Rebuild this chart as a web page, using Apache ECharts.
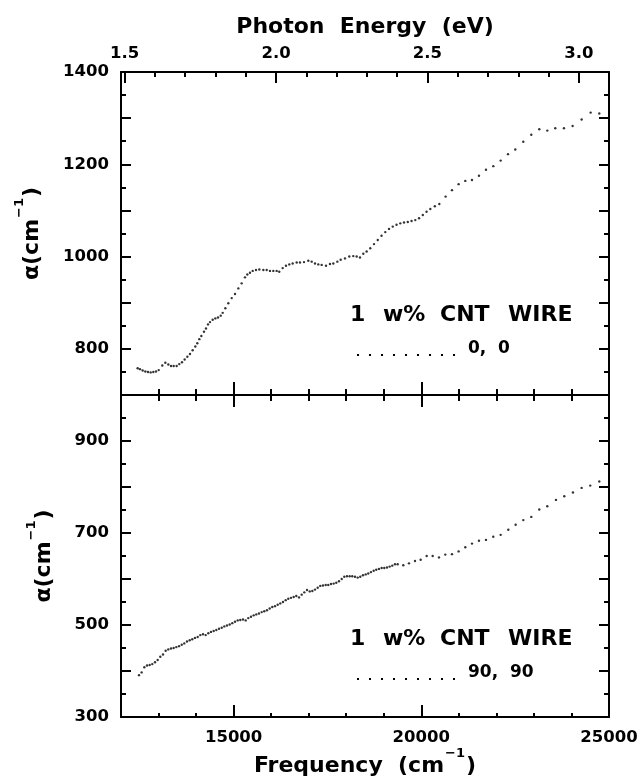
<!DOCTYPE html>
<html>
<head>
<meta charset="utf-8">
<script src="https://cdn.jsdelivr.net/npm/echarts@6/dist/echarts.min.js"></script>
<style>
  html, body { margin: 0; padding: 0; background: #fff; }
  #chart { width: 641px; height: 778px; }
</style>
</head>
<body>
<div id="chart"></div>
<script>
// 1 eV in cm^-1
var EV = 8065.54;
var freqMin = 12000, freqMax = 25000;

// tick marks / labels
var freqLabels = [15000, 20000, 25000];
var freqMajor = [15000, 20000];
var energyTicks = [1.5, 1.6, 1.7, 1.8, 1.9, 2.0, 2.1, 2.2, 2.3, 2.4, 2.5, 2.6, 2.7, 2.8, 2.9, 3.0];
var energyLabels = [1.5, 2.0, 2.5, 3.0];
var topAlphaLabels = [800, 1000, 1200, 1400];
var botAlphaLabels = [300, 500, 700, 900];

// 1 w% CNT wire, polarisation 0, 0
var topFreq = [12444, 12506, 12577, 12648, 12719, 12790, 12861, 12932, 13004, 13100,
  13181, 13261, 13332, 13403, 13483, 13553, 13625, 13696, 13767, 13838,
  13909, 13980, 14033, 14086, 14140, 14211, 14264, 14318, 14371, 14442,
  14513, 14584, 14656, 14709, 14780, 14859, 14949, 15037, 15126, 15215,
  15303, 15365, 15436, 15508, 15596, 15685, 15792, 15881, 15969, 16058,
  16147, 16216, 16307, 16395, 16483, 16573, 16680, 16768, 16875, 16990,
  17080, 17168, 17256, 17346, 17461, 17567, 17656, 17763, 17852, 17967,
  18081, 18188, 18278, 18366, 18455, 18544, 18640, 18740, 18840, 18940,
  19040, 19140, 19240, 19340, 19440, 19540, 19640, 19740, 19840, 19940,
  20040, 20140, 20240, 20360, 20480, 20648, 20817, 20994, 21172, 21350,
  21536, 21723, 21918, 22114, 22309, 22504, 22717, 22930, 23143, 23356,
  23569, 23800, 24031, 24271, 24511, 24741];
var topAlpha = [758, 756, 753, 751, 750, 749, 750, 751, 754, 764,
  770, 766, 763, 763, 763, 767, 771, 777, 783, 789,
  797, 805, 812, 821, 828, 837, 844, 853, 858, 863,
  866, 868, 872, 878, 888, 899, 910, 919, 931, 942,
  955, 961, 965, 969, 971, 972, 971, 971, 969, 969,
  969, 967, 975, 980, 983, 985, 987, 987, 988, 991,
  989, 985, 983, 982, 980, 984, 985, 989, 993, 996,
  1000, 1001, 1000, 998, 1006, 1011, 1018, 1027, 1036, 1045,
  1053, 1060, 1065, 1069, 1072, 1074, 1075, 1077, 1079, 1083,
  1090, 1097, 1103, 1109, 1114, 1130, 1144, 1157, 1164, 1166,
  1175, 1188, 1196, 1208, 1222, 1232, 1249, 1264, 1276, 1273,
  1278, 1278, 1283, 1297, 1312, 1310];

// 1 w% CNT wire, polarisation 90, 90
var botFreq = [12479, 12550, 12621, 12693, 12764, 12834, 12906, 12977, 13047, 13119,
  13190, 13260, 13332, 13403, 13473, 13545, 13617, 13686, 13758, 13830,
  13899, 13971, 14043, 14112, 14184, 14256, 14326, 14397, 14469, 14539,
  14611, 14683, 14752, 14824, 14896, 14965, 15037, 15109, 15178, 15250,
  15322, 15391, 15463, 15535, 15604, 15676, 15748, 15817, 15889, 15961,
  16030, 16102, 16174, 16243, 16315, 16387, 16456, 16528, 16600, 16670,
  16742, 16813, 16883, 16955, 17027, 17097, 17168, 17240, 17309, 17381,
  17453, 17522, 17594, 17666, 17735, 17807, 17879, 17948, 18020, 18092,
  18161, 18233, 18305, 18374, 18446, 18518, 18587, 18659, 18731, 18800,
  18872, 18944, 19014, 19086, 19157, 19227, 19299, 19371, 19520, 19672,
  19832, 19983, 20143, 20303, 20471, 20639, 20817, 20994, 21172, 21350,
  21536, 21723, 21918, 22114, 22318, 22513, 22717, 22930, 23143, 23356,
  23587, 23809, 24040, 24271, 24500, 24741];
var botAlpha = [391, 397, 408, 412, 413, 415, 419, 424, 431, 436,
  444, 447, 449, 450, 452, 454, 457, 460, 464, 467,
  469, 472, 474, 478, 480, 478, 482, 485, 487, 489,
  492, 494, 497, 499, 501, 504, 507, 510, 511, 512,
  510, 515, 518, 521, 523, 525, 528, 530, 532, 536,
  539, 541, 544, 547, 550, 554, 557, 559, 561, 563,
  560, 566, 571, 576, 573, 574, 577, 581, 585, 586,
  587, 587, 589, 590, 592, 595, 600, 605, 606, 606,
  606, 605, 603, 605, 608, 610, 612, 615, 618, 620,
  622, 624, 624, 625, 627, 629, 632, 632, 630, 634,
  639, 642, 650, 650, 647, 653, 654, 660, 669, 677,
  683, 685, 692, 696, 707, 718, 728, 735, 751, 758,
  772, 780, 788, 798, 803, 812];

function pairs(xs, ys) {
  return xs.map(function (x, i) { return [x, ys[i]]; });
}

var FONT = 'DejaVu Sans';
var black = '#000';
var lineW = 2;
var plain = function (v) { return String(v); };
var labelStyle = { color: black, fontFamily: FONT, fontWeight: 'bold', fontSize: 16.5, formatter: plain };
var nameRich = {
  a: { fontFamily: FONT, fontWeight: 'bold', fontSize: 22, color: black, lineHeight: 30, verticalAlign: 'bottom' },
  s: { fontFamily: FONT, fontWeight: 'bold', fontSize: 13, color: black, lineHeight: 30, verticalAlign: 'top', padding: [0, 1, 0, 1] }
};

function freqAxis(grid, pos, o) {
  return Object.assign({
    type: 'value', gridIndex: grid, position: pos, min: freqMin, max: freqMax, interval: 1000,
    axisLine: { show: true, onZero: false, lineStyle: { color: black, width: lineW } },
    axisTick: { show: true, inside: true, length: 6, lineStyle: { color: black, width: lineW } },
    axisLabel: { show: false },
    splitLine: { show: false }
  }, o);
}
function energyAxis(grid, o) {
  return Object.assign({
    type: 'value', gridIndex: grid, position: 'top', min: freqMin / EV, max: freqMax / EV,
    axisLine: { show: false, onZero: false },
    axisTick: { show: true, inside: true, length: 5, customValues: energyTicks, lineStyle: { color: black, width: lineW } },
    axisLabel: { show: false },
    splitLine: { show: false }
  }, o);
}
function alphaAxis(grid, pos, min, labels, o) {
  return Object.assign({
    type: 'value', gridIndex: grid, position: pos, min: min, max: min + 700, interval: 100,
    axisLine: { show: true, onZero: false, lineStyle: { color: black, width: lineW } },
    axisTick: { show: true, inside: true, length: 10, lineStyle: { color: black, width: lineW } },
    minorTick: { show: true, splitNumber: 2, length: 5, lineStyle: { color: black, width: lineW } },
    axisLabel: pos === 'left'
      ? Object.assign({ show: true, customValues: labels, margin: 12 }, labelStyle)
      : { show: false },
    splitLine: { show: false }
  }, o);
}
function hiddenY(grid) {
  return { type: 'value', gridIndex: grid, min: 0, max: 1, show: false };
}

var chart = echarts.init(document.getElementById('chart'), null, { renderer: 'canvas' });

var option = {
  backgroundColor: '#fff',
  animation: false,
  grid: [
    { left: 121, top: 72, width: 488, height: 323 },
    { left: 121, top: 72, width: 488, height: 323 },
    { left: 121, top: 395, width: 488, height: 322 },
    { left: 121, top: 395, width: 488, height: 322 }
  ],
  xAxis: [
    // 0: top panel, bottom edge (short ticks)
    freqAxis(0, 'bottom'),
    // 1: photon energy axis on top
    energyAxis(0, {
      axisLine: { show: true, onZero: false, lineStyle: { color: black, width: lineW } },
      axisLabel: Object.assign({}, labelStyle, {
        show: true, customValues: energyLabels, margin: 10,
        formatter: function (v) { return v.toFixed(1); }
      }),
      name: '{a|Photon  Energy  (eV)}',
      nameLocation: 'middle', nameGap: 34,
      nameTextStyle: { rich: { a: { fontFamily: FONT, fontWeight: 'bold', fontSize: 22, color: black } } }
    }),
    // 2, 3: long ticks for top panel
    freqAxis(1, 'bottom', {
      axisLine: { show: false, onZero: false },
      axisTick: { show: true, inside: true, length: 13, customValues: freqMajor, lineStyle: { color: black, width: lineW } }
    }),
    energyAxis(1, {
      axisTick: { show: true, inside: true, length: 11, customValues: energyLabels, lineStyle: { color: black, width: lineW } }
    }),
    // 4: bottom panel, bottom edge with labels
    freqAxis(2, 'bottom', {
      axisTick: { show: true, inside: true, length: 4, lineStyle: { color: black, width: lineW } },
      axisLabel: Object.assign({ show: true, customValues: freqLabels, margin: 12 }, labelStyle),
      name: '{a|Frequency  (cm}{s|−1}{a|)}',
      nameLocation: 'middle', nameGap: 30,
      nameTextStyle: { rich: nameRich }
    }),
    // 5: bottom panel, top edge
    freqAxis(2, 'top'),
    // 6, 7: long ticks for bottom panel
    freqAxis(3, 'bottom', {
      axisLine: { show: false, onZero: false },
      axisTick: { show: true, inside: true, length: 12, customValues: freqMajor, lineStyle: { color: black, width: lineW } }
    }),
    freqAxis(3, 'top', {
      axisLine: { show: false, onZero: false },
      axisTick: { show: true, inside: true, length: 12, customValues: freqMajor, lineStyle: { color: black, width: lineW } }
    })
  ],
  yAxis: [
    alphaAxis(0, 'left', 700, topAlphaLabels, {
      name: '{a|α(cm}{s|−1}{a|)}', nameLocation: 'middle', nameGap: 78,
      nameTextStyle: { rich: nameRich }
    }),
    alphaAxis(0, 'right', 700, topAlphaLabels),
    hiddenY(1), hiddenY(1),
    alphaAxis(2, 'left', 300, botAlphaLabels, {
      name: '{a|α(cm}{s|−1}{a|)}', nameLocation: 'middle', nameGap: 66,
      nameTextStyle: { rich: nameRich }
    }),
    alphaAxis(2, 'right', 300, botAlphaLabels),
    hiddenY(3), hiddenY(3)
  ],
  series: [
    {
      name: '0, 0', type: 'scatter', xAxisIndex: 0, yAxisIndex: 0,
      data: pairs(topFreq, topAlpha), symbol: 'circle', symbolSize: 2.4,
      itemStyle: { color: black }, silent: true
    },
    {
      name: '90, 90', type: 'scatter', xAxisIndex: 4, yAxisIndex: 4,
      data: pairs(botFreq, botAlpha), symbol: 'circle', symbolSize: 2.4,
      itemStyle: { color: black }, silent: true
    }
  ],
  graphic: []
};

// legend blocks (text + dotted sample)
function legendBlock(yTitle, yKey, key) {
  var big = { fill: black, font: 'bold 22px "DejaVu Sans"', verticalAlign: 'middle' };
  var small = { fill: black, font: 'bold 17px "DejaVu Sans"', verticalAlign: 'middle' };
  var words = [['1', 350], ['w%', 383], ['CNT', 440], ['WIRE', 508]];
  var out = words.map(function (w) {
    return { type: 'text', left: w[1], top: yTitle - 13, style: Object.assign({ text: w[0] }, big) };
  });
  out.push({
    type: 'line', shape: { x1: 357, y1: yKey + 5, x2: 456, y2: yKey + 5 },
    style: { stroke: black, lineWidth: 2, lineDash: [2, 10] }
  });
  out.push({ type: 'text', left: 468, top: yKey - 10, style: Object.assign({ text: key }, small) });
  return out;
}
option.graphic = legendBlock(317, 350, '0,  0').concat(legendBlock(641, 674, '90,  90'));

chart.setOption(option);
</script>
</body>
</html>
